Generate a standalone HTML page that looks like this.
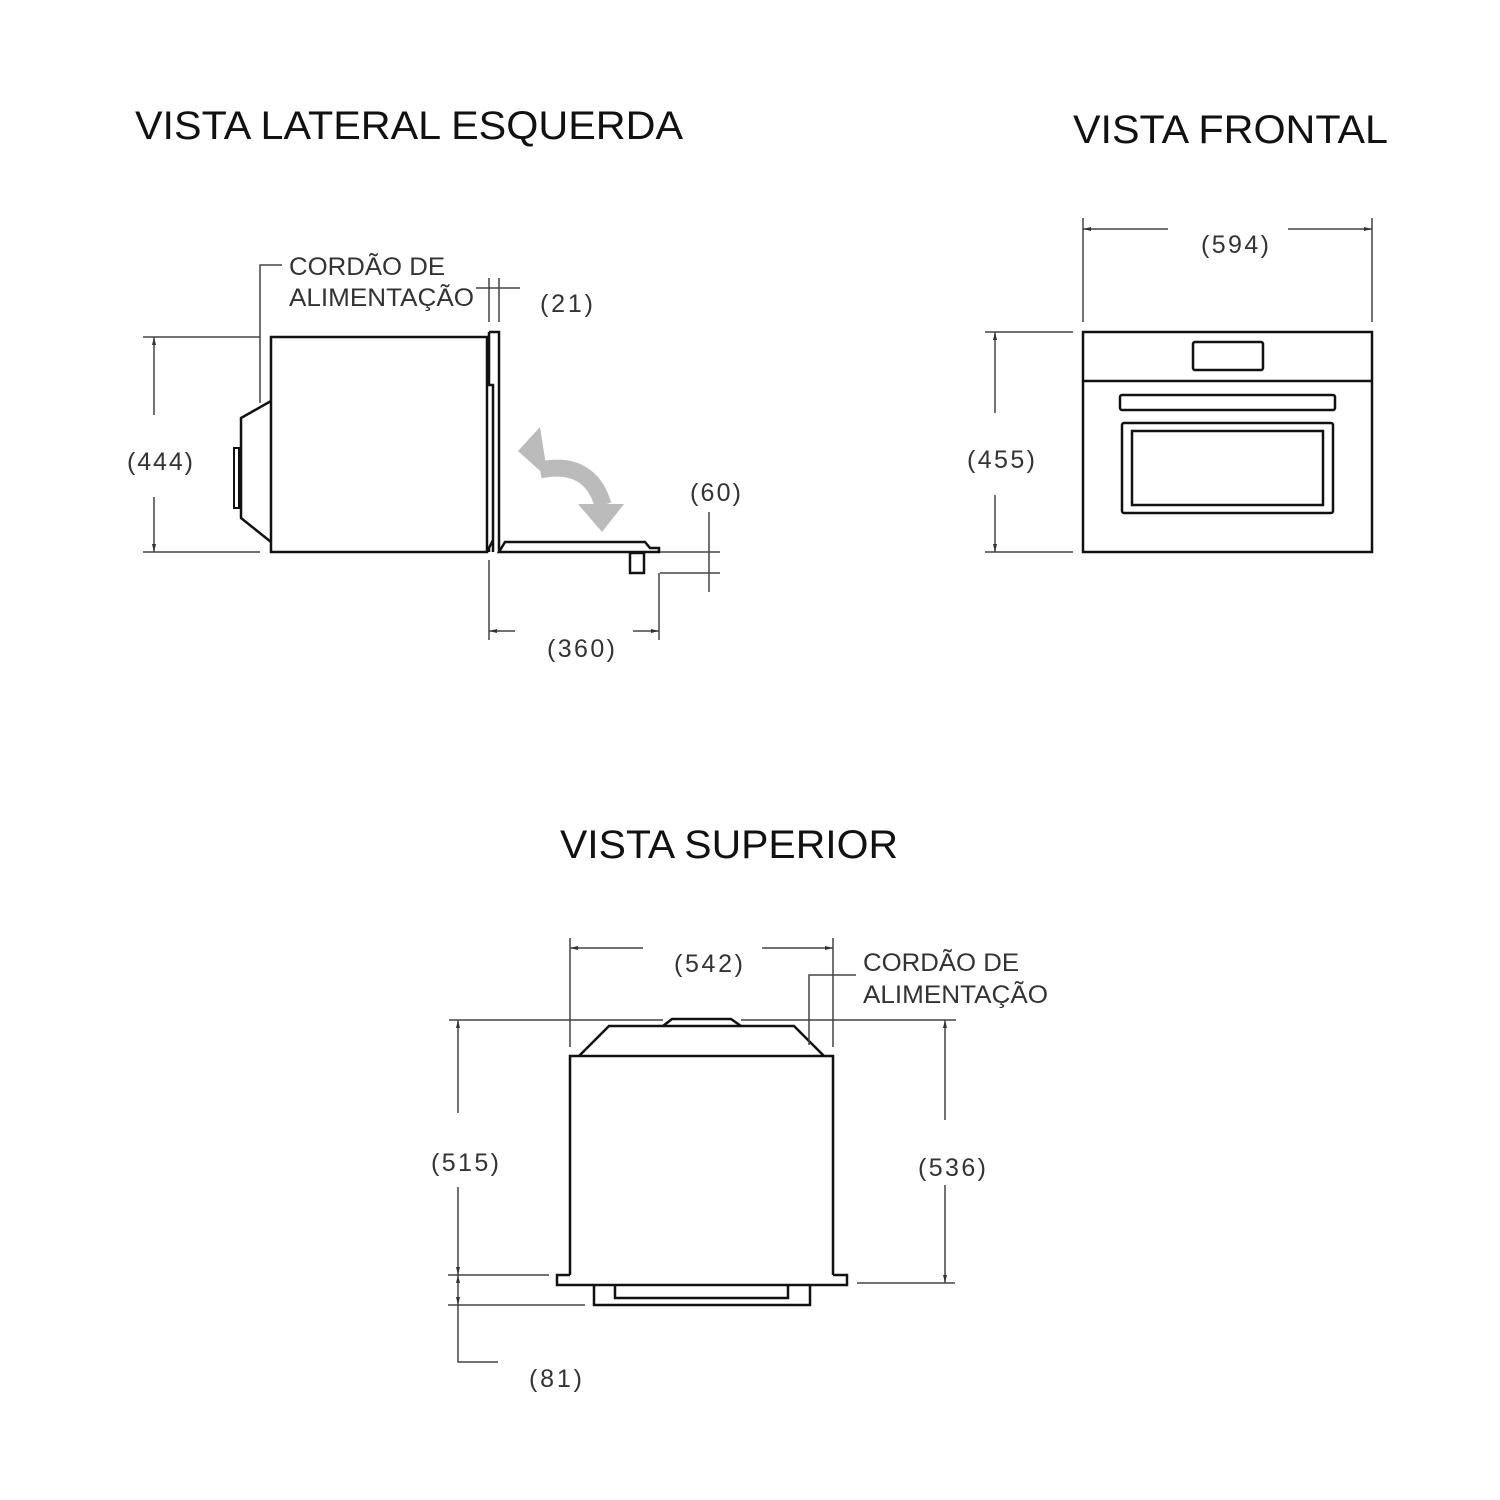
<!DOCTYPE html>
<html><head><meta charset="utf-8"><style>
html,body{margin:0;padding:0;background:#fff;}
svg{display:block;}
text{font-family:"Liberation Sans",sans-serif;fill:#222;}
.t{font-size:40px;fill:#111;}
.l{font-size:25px;fill:#333;}
</style></head><body>
<svg width="1500" height="1500" viewBox="0 0 1500 1500" xmlns="http://www.w3.org/2000/svg">
<defs>
<marker id="a" markerWidth="8" markerHeight="8" refX="8" refY="4" orient="auto-start-reverse" markerUnits="userSpaceOnUse"><path d="M0,2 L8,4 L0,6 Z" fill="#333"/></marker>
</defs>
<text class="t" x="135" y="139" textLength="548" lengthAdjust="spacingAndGlyphs">VISTA LATERAL ESQUERDA</text>
<text class="t" x="1073" y="143" textLength="315" lengthAdjust="spacingAndGlyphs">VISTA FRONTAL</text>
<text class="t" x="560" y="858" textLength="338" lengthAdjust="spacingAndGlyphs">VISTA SUPERIOR</text>

<!-- SIDE VIEW -->
<g fill="none" stroke="#111" stroke-width="2.5">
<rect x="271" y="337" width="216" height="215"/>
<polyline points="271,401 241,418 241,518 271,542"/>
<rect x="234" y="448" width="5" height="60" stroke-width="2"/>
<path d="M489,332 H499 V552 M489,332 V385 H493 V540 L489,548 V552 M493,385 V552"/>
<path d="M499,552 L505,542 H645 L650,548 H659 V552 Z"/>
<rect x="630" y="553" width="14" height="20"/>
</g>
<g fill="none" stroke="#444" stroke-width="1.5">
<path d="M282,265 H260 V403"/>
<path d="M143,337 H260 M143,552 H260"/>
<line x1="154" y1="337" x2="154" y2="415" marker-start="url(#a)"/>
<line x1="154" y1="497" x2="154" y2="552" marker-end="url(#a)"/>
<path d="M489,278 V322 M499,278 V322 M476,288 H520"/>
<path d="M709,512 V592 M660,552 H720 M660,573 H720 M659,573 V640 M489,560 V640"/>
<line x1="489" y1="631" x2="515" y2="631" marker-start="url(#a)"/>
<line x1="633" y1="631" x2="659" y2="631" marker-end="url(#a)"/>
</g>
<path d="M540,470 Q590,460 603,505" fill="none" stroke="#bbb" stroke-width="17"/>
<polygon points="518,451 540,427 548,478" fill="#bbb"/>
<polygon points="578,504 624,504 602,532" fill="#bbb"/>
<text class="l" x="289" y="275" textLength="156" lengthAdjust="spacingAndGlyphs">CORDÃO DE</text>
<text class="l" x="289" y="306" textLength="185" lengthAdjust="spacingAndGlyphs">ALIMENTAÇÃO</text>
<text class="l" x="540" y="312" textLength="53" lengthAdjust="spacing">(21)</text>
<text class="l" x="127" y="470" textLength="66" lengthAdjust="spacing">(444)</text>
<text class="l" x="690" y="501" textLength="51" lengthAdjust="spacing">(60)</text>
<text class="l" x="547" y="657" textLength="68" lengthAdjust="spacing">(360)</text>

<!-- FRONT VIEW -->
<g fill="none" stroke="#111" stroke-width="2.5">
<rect x="1083" y="332" width="289" height="220"/>
<line x1="1083" y1="381" x2="1372" y2="381"/>
<rect x="1193" y="342" width="70" height="28" rx="2"/>
<rect x="1120" y="395" width="215" height="15" rx="2"/>
<rect x="1122" y="423" width="211" height="90" rx="2"/>
<rect x="1132" y="431" width="191" height="74"/>
</g>
<g fill="none" stroke="#444" stroke-width="1.5">
<path d="M1083,218 V322 M1372,218 V322 M985,332 H1073 M985,552 H1073"/>
<line x1="1083" y1="229" x2="1168" y2="229" marker-start="url(#a)"/>
<line x1="1288" y1="229" x2="1372" y2="229" marker-end="url(#a)"/>
<line x1="995" y1="332" x2="995" y2="413" marker-start="url(#a)"/>
<line x1="995" y1="495" x2="995" y2="552" marker-end="url(#a)"/>
</g>
<text class="l" x="1201" y="253" textLength="68" lengthAdjust="spacing">(594)</text>
<text class="l" x="967" y="468" textLength="68" lengthAdjust="spacing">(455)</text>

<!-- TOP VIEW -->
<g fill="none" stroke="#111" stroke-width="2.5">
<path d="M570,1275 V1056 H833 V1275"/>
<polyline points="579,1056 609,1026 794,1026 824,1056"/>
<path d="M663,1026 L672,1019 H731 L741,1026"/>
<path d="M570,1275 H557 V1285 H847 V1275 H833"/>
<path d="M594,1285 V1305 H810 V1285 M615,1285 V1298 H788 V1285"/>
</g>
<g fill="none" stroke="#444" stroke-width="1.5">
<path d="M449,1020 H663 M741,1020 H956"/>
<path d="M570,938 V1047 M833,938 V1047"/>
<line x1="570" y1="948" x2="643" y2="948" marker-start="url(#a)"/>
<line x1="762" y1="948" x2="833" y2="948" marker-end="url(#a)"/>
<path d="M809,1045 V975 H856"/>
<path d="M448,1275 H549 M448,1305 H585 M458,1305 V1362 H498"/>
<line x1="458" y1="1020" x2="458" y2="1113" marker-start="url(#a)"/>
<line x1="458" y1="1187" x2="458" y2="1275" marker-end="url(#a)"/>
<line x1="458" y1="1275" x2="458" y2="1305" marker-start="url(#a)" marker-end="url(#a)"/>
<path d="M857,1283 H955"/>
<line x1="945" y1="1020" x2="945" y2="1120" marker-start="url(#a)"/>
<line x1="945" y1="1185" x2="945" y2="1283" marker-end="url(#a)"/>
</g>
<text class="l" x="674" y="972" textLength="69" lengthAdjust="spacing">(542)</text>
<text class="l" x="863" y="971" textLength="156" lengthAdjust="spacingAndGlyphs">CORDÃO DE</text>
<text class="l" x="863" y="1003" textLength="185" lengthAdjust="spacingAndGlyphs">ALIMENTAÇÃO</text>
<text class="l" x="431" y="1171" textLength="68" lengthAdjust="spacing">(515)</text>
<text class="l" x="918" y="1176" textLength="68" lengthAdjust="spacing">(536)</text>
<text class="l" x="529" y="1387" textLength="53" lengthAdjust="spacing">(81)</text>
</svg>
</body></html>
